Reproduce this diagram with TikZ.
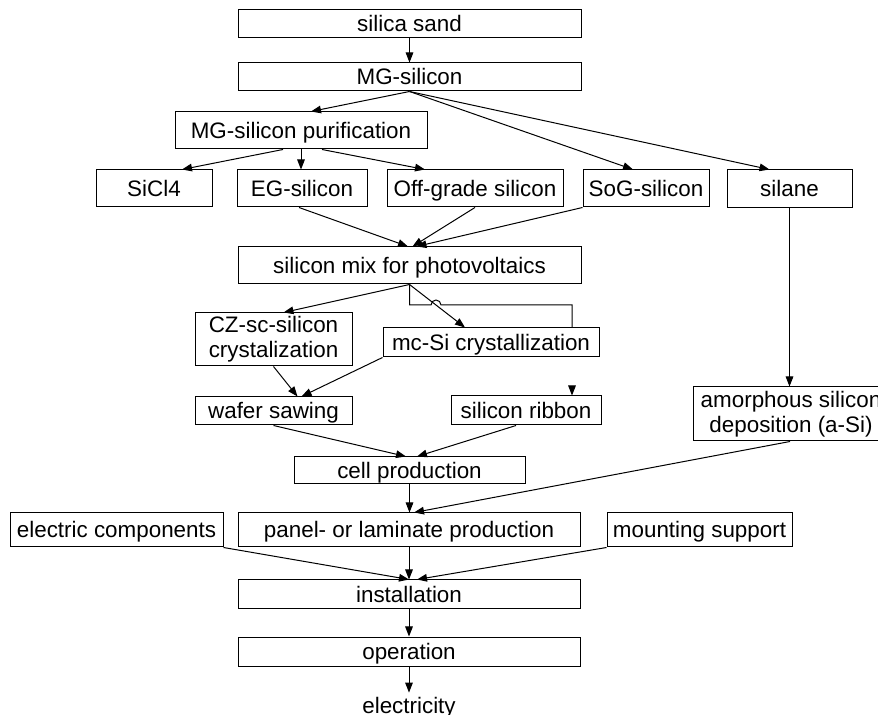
\documentclass[tikz,border=0pt]{standalone}
\usepackage{fontspec}
\setmainfont{Liberation Sans}
\usetikzlibrary{calc,arrows.meta}

\begin{document}
\begin{tikzpicture}[x=0.5pt, y=-0.5pt,
  font=\fontsize{11.2}{12.3}\selectfont,
  mbox/.style={draw, line width=0.5pt, inner sep=0pt, align=center},
  box/.style={mbox, text height=8pt, text depth=0pt},
  sz/.style 2 args={minimum width=#1*0.5pt, minimum height=#2*0.5pt},
  arr/.style={line width=0.5pt, -{Triangle[length=5pt, width=3.8pt]}},
  lin/.style={line width=0.5pt}]

\useasboundingbox (0,0) rectangle (878,715);

% Raw material and refining
\node[box, sz={343}{28}] (sand) at (409.5,24) {silica sand};
\node[box, sz={343}{28}] (mg) at (409.5,77) {MG-silicon};
\node[box, sz={252}{37}] (purif) at (301,130.5) {MG-silicon purification};

% Silicon grades
\node[box, sz={116}{37}] (sicl) at (154,188.5) {SiCl4};
\node[box, sz={130}{37}] (eg) at (302,188.5) {EG-silicon};
\node[box, sz={176}{37}] (off) at (475,188.5) {Off-grade silicon};
\node[box, sz={126}{37}] (sog) at (646,188.5) {SoG-silicon};
\node[box, sz={125}{38}] (silane) at (789.5,189) {silane};

% Crystallization and wafers
\node[box, sz={343}{37}] (mix) at (409.5,265.5) {silicon mix for photovoltaics};
\node[mbox, sz={157}{53}] (cz) at (273.5,339.5) {CZ-sc-silicon\\crystalization};
\node[box, sz={216}{29}] (mcsi) at (491,342.5) {mc-Si crystallization};
\node[box, sz={157}{28}] (wafer) at (273.5,411) {wafer sawing};
\node[box, sz={150}{29}] (ribbon) at (526,410.5) {silicon ribbon};
\node[mbox, sz={196}{54}] (amorph) at (791,414) {amorphous silicon\\deposition (a-Si)};

% Cells, modules and use
\node[box, sz={231}{27}] (cell) at (409.5,470.5) {cell production};
\node[box, sz={213}{34}] (elec) at (116.5,530) {electric components};
\node[box, sz={342}{34}] (panel) at (409,530) {panel- or laminate production};
\node[box, sz={185}{34}] (mount) at (699.5,530) {mounting support};
\node[box, sz={342}{29}] (install) at (409,594.5) {installation};
\node[box, sz={342}{29}] (oper) at (409,651.5) {operation};
\node[inner sep=2pt, text height=8pt, text depth=0pt] (elty) at (409,705) {electricity};

% Helper points
\coordinate (hop) at (436,305);
\coordinate (loopr) at (572,305);
\coordinate (rtip) at (572,386);

% Upper arrows
\draw[arr] (sand) -- (mg);
\draw[arr] (mg.south) -- ($(purif.north)+(10,0)$);
\draw[arr] (mg.south) -- ($(sog.north)+(-13,0)$);
\draw[arr] (mg.south) -- ($(silane.north)+(-20,0)$);
\draw[arr] ($(purif.south)+(-18,0)$) -- ($(sicl.north)+(28,0)$);
\draw[arr] (purif.south) -- (purif.south |- eg.north);
\draw[arr] ($(purif.south)+(21,0)$) -- ($(off.north)+(-50,0)$);

% Into the silicon mix
\draw[arr] ($(eg.south)+(-3,0)$) -- ($(mix.north)+(-1.5,0)$);
\draw[arr] (off.south) -- ($(mix.north)+(3,0)$);
\draw[arr] (sog.south west) -- ($(mix.north)+(7,0)$);

% Crystallization paths
\draw[arr] (mix.south) -- ($(cz.north)+(10,0)$);
\draw[arr] (mix.south) -- ($(mcsi.north)+(-26,0)$);
\draw[lin] (mix.south) -- (mix.south |- hop) -- ($(hop)+(-5,0)$)
  arc[start angle=180, end angle=0, radius=2.5pt] -- (loopr) -- (loopr |- mcsi.north);
\draw[arr] (cz.south) -- ($(wafer.north)+(24,0)$);
\draw[arr] (mcsi.south west) -- ($(wafer.north)+(28,0)$);
\draw[arr] (rtip) -- (rtip |- ribbon.north);
\draw[arr] (silane.south) -- (silane.south |- amorph.north);

% Cells to installation
\draw[arr] (wafer.south) -- ($(cell.north)+(-3.5,0)$);
\draw[arr] ($(ribbon.south)+(-10,0)$) -- ($(cell.north)+(7.5,0)$);
\draw[arr] (cell.south) -- (cell.south |- panel.north);
\draw[arr] ($(amorph.south)+(-1,0)$) -- ($(panel.north)+(5,0)$);
\draw[arr] (elec.south east) -- (install.north);
\draw[arr] (panel.south) -- (install.north);
\draw[arr] (mount.south west) -- ($(install.north)+(8,0)$);
\draw[arr] (install) -- (oper);
\draw[arr] (oper) -- (elty);

\end{tikzpicture}
\end{document}
